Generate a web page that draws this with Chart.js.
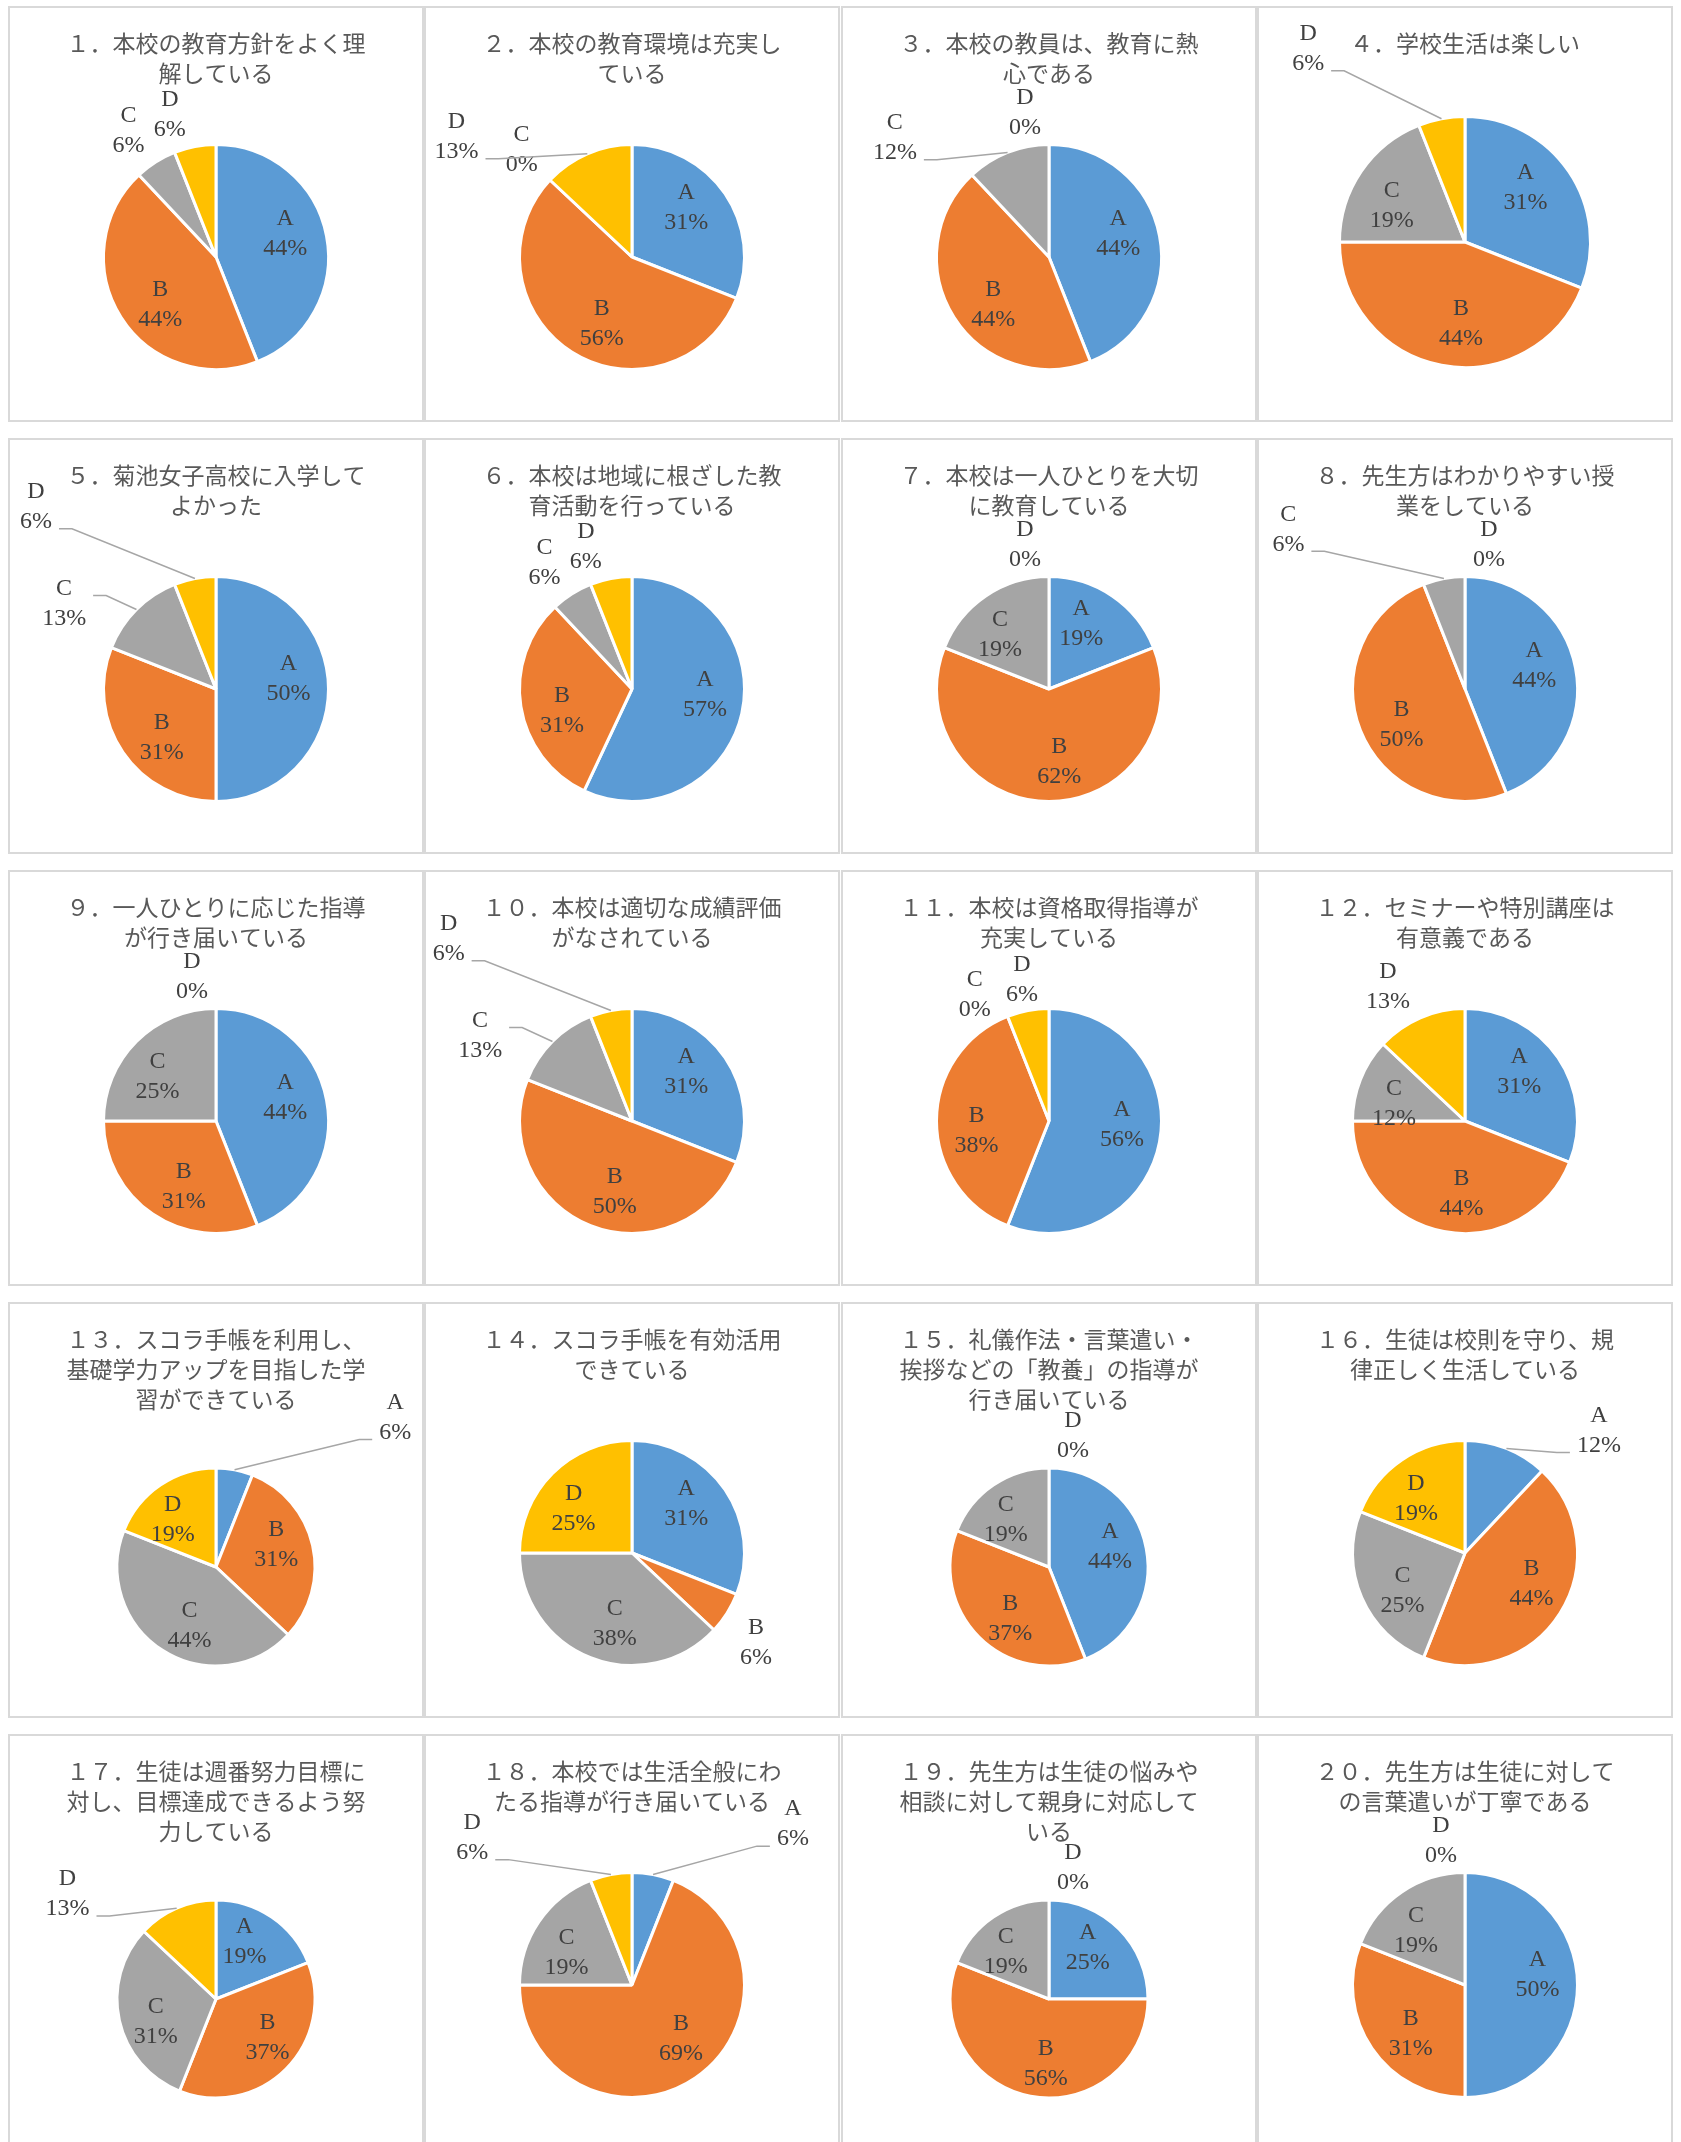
<!DOCTYPE html>
<html lang="ja">
<head>
<meta charset="utf-8">
<title>学校評価アンケート結果</title>
<script src="https://cdn.jsdelivr.net/npm/chart.js@4.4.0/dist/chart.umd.min.js"></script>
<style>
  html, body { margin: 0; padding: 0; background: #fff; }
  body { width: 1681px; height: 2142px; overflow: hidden; position: relative; }
  canvas { position: absolute; }
</style>
</head>
<body>
<script>
// 回答区分と色
const categories = ['A', 'B', 'C', 'D'];
const colors = ['#5B9BD5', '#ED7D31', '#A5A5A5', '#FFC000'];

// 設問タイトル（グラフ上の改行どおり）
const titles = [
  ['１．本校の教育方針をよく理', '解している'],
  ['２．本校の教育環境は充実し', 'ている'],
  ['３．本校の教員は、教育に熱', '心である'],
  ['４．学校生活は楽しい'],
  ['５．菊池女子高校に入学して', 'よかった'],
  ['６．本校は地域に根ざした教', '育活動を行っている'],
  ['７．本校は一人ひとりを大切', 'に教育している'],
  ['８．先生方はわかりやすい授', '業をしている'],
  ['９．一人ひとりに応じた指導', 'が行き届いている'],
  ['１０．本校は適切な成績評価', 'がなされている'],
  ['１１．本校は資格取得指導が', '充実している'],
  ['１２．セミナーや特別講座は', '有意義である'],
  ['１３．スコラ手帳を利用し、', '基礎学力アップを目指した学', '習ができている'],
  ['１４．スコラ手帳を有効活用', 'できている'],
  ['１５．礼儀作法・言葉遣い・', '挨拶などの「教養」の指導が', '行き届いている'],
  ['１６．生徒は校則を守り、規', '律正しく生活している'],
  ['１７．生徒は週番努力目標に', '対し、目標達成できるよう努', '力している'],
  ['１８．本校では生活全般にわ', 'たる指導が行き届いている'],
  ['１９．先生方は生徒の悩みや', '相談に対して親身に対応して', 'いる'],
  ['２０．先生方は生徒に対して', 'の言葉遣いが丁寧である']
];

// 各設問の回答割合（％）
const valuesA = [44, 31, 44, 31, 50, 57, 19, 44, 44, 31, 56, 31, 6, 31, 44, 12, 19, 6, 25, 50];
const valuesB = [44, 56, 44, 44, 31, 31, 62, 50, 31, 50, 38, 44, 31, 6, 37, 44, 37, 69, 56, 31];
const valuesC = [6, 0, 12, 19, 13, 6, 19, 6, 25, 13, 0, 12, 44, 38, 19, 25, 31, 19, 19, 19];
const valuesD = [6, 13, 0, 6, 6, 6, 0, 0, 0, 6, 6, 13, 19, 25, 0, 19, 13, 6, 0, 0];

// 引き出し線付きで外へ移したラベル（円の中心から、半径比）
const movedLabels = {
  2: { D: [-1.56, -1.07] },
  3: { C: [-1.37, -1.06] },
  4: { D: [-1.25, -1.54] },
  5: { D: [-1.60, -1.62], C: [-1.35, -0.76] },
  8: { C: [-1.57, -1.42] },
  10: { D: [-1.63, -1.62], C: [-1.35, -0.76] },
  13: { A: [1.81, -1.51] },
  16: { A: [1.19, -1.09] },
  17: { D: [-1.50, -1.06] },
  18: { D: [-1.42, -1.31], A: [1.43, -1.43] }
};
// 重なり回避で寄せたラベル（線なし）
const nudgedLabels = {
  11: { C: [-0.66, -1.12], D: [-0.24, -1.26] }
};
// 真上の0%ラベルを右側に置く設問
const zeroRight = [8, 15, 19];

// タイトル行数ごとの余白（タイトル下, 下端）
const padByLines = { 1: [57, 53], 2: [55, 51], 3: [52.5, 50.5] };

const colLeft = [8, 424, 841, 1257];

const panelBorder = {
  id: 'panelBorder',
  beforeDraw(chart) {
    const ctx = chart.ctx;
    ctx.save();
    ctx.strokeStyle = '#d9d9d9';
    ctx.lineWidth = 2;
    ctx.strokeRect(1, 1, chart.width - 2, chart.height - 2);
    ctx.restore();
  }
};

const sliceLabels = {
  id: 'sliceLabels',
  afterDatasetsDraw(chart, args, opts) {
    const q = opts.question;
    const ctx = chart.ctx;
    const meta = chart.getDatasetMeta(0);
    const values = chart.data.datasets[0].data;
    ctx.save();
    ctx.font = '24px "Liberation Serif"';
    ctx.textAlign = 'center';
    ctx.textBaseline = 'middle';
    meta.data.forEach((arc, i) => {
      const p = arc.getProps(['x', 'y', 'startAngle', 'endAngle', 'outerRadius'], true);
      const r = p.outerRadius;
      const mid = (p.startAngle + p.endAngle) / 2;
      const ux = Math.cos(mid), uy = Math.sin(mid);
      const v = values[i];
      const cat = categories[i];
      const pct = v + '%';
      const w = Math.max(ctx.measureText(cat).width, ctx.measureText(pct).width);
      const halfW = w / 2 + 8, halfH = 26;
      const theta = mid + Math.PI / 2;
      const outside = v < 12 || (v < 14 && Math.abs(Math.sin(theta)) < 0.866);
      const moved = movedLabels[q] && movedLabels[q][cat];
      const nudged = nudgedLabels[q] && nudgedLabels[q][cat];
      let lx, ly;
      if (moved) {
        lx = p.x + moved[0] * r;
        ly = p.y + moved[1] * r;
      } else if (nudged) {
        lx = p.x + nudged[0] * r;
        ly = p.y + nudged[1] * r;
      } else if (!outside) {
        // 内側ラベルは二等分線より少し反時計回り寄り
        const a = mid - 8 * Math.PI / 180;
        lx = p.x + 0.65 * r * Math.cos(a);
        ly = p.y + 0.65 * r * Math.sin(a);
      } else {
        const px = p.x + (r + 6) * ux, py = p.y + (r + 6) * uy;
        let sx = Math.sign(Math.round(ux * 1000));
        if (sx === 0) sx = zeroRight.includes(q) ? 1 : -1;
        const sy = uy < 0 ? -1 : 1;
        lx = px + sx * halfW;
        ly = py + sy * halfH;
      }

      if (moved) {
        // 引き出し線
        const ax = p.x + r * ux, ay = p.y + r * uy;
        const side = ax > lx ? 1 : -1;
        const x0 = lx + side * (w / 2 + 7);
        const y0 = Math.abs(ay - ly) < 12 ? ly - 8 : ly + 22;
        ctx.strokeStyle = '#a6a6a6';
        ctx.lineWidth = 1.5;
        ctx.beginPath();
        ctx.moveTo(x0, y0);
        ctx.lineTo(x0 + side * 13, y0);
        ctx.lineTo(ax, ay);
        ctx.stroke();
      }

      ctx.fillStyle = '#404040';
      ctx.fillText(cat, lx, ly - 15);
      ctx.fillText(pct, lx, ly + 15);
    });
    ctx.restore();
  }
};

for (let i = 0; i < titles.length; i++) {
  const q = i + 1;
  const canvas = document.createElement('canvas');
  canvas.width = 416;
  canvas.height = 416;
  canvas.style.left = colLeft[i % 4] + 'px';
  canvas.style.top = (6 + Math.floor(i / 4) * 432) + 'px';
  document.body.appendChild(canvas);

  const pads = padByLines[titles[i].length];

  new Chart(canvas.getContext('2d'), {
    type: 'pie',
    data: {
      labels: categories,
      datasets: [{
        data: [valuesA[i], valuesB[i], valuesC[i], valuesD[i]],
        backgroundColor: colors,
        borderColor: '#ffffff',
        borderWidth: 3
      }]
    },
    options: {
      responsive: false,
      animation: false,
      events: [],
      layout: { padding: { bottom: pads[1] } },
      plugins: {
        legend: { display: false },
        tooltip: { enabled: false },
        title: {
          display: true,
          text: titles[i],
          color: '#595959',
          font: { family: '"Noto Sans CJK JP"', size: 23, weight: 'normal', lineHeight: '30px' },
          padding: { top: 22, bottom: pads[0] }
        },
        sliceLabels: { question: q }
      }
    },
    plugins: [panelBorder, sliceLabels]
  });
}
</script>
</body>
</html>
